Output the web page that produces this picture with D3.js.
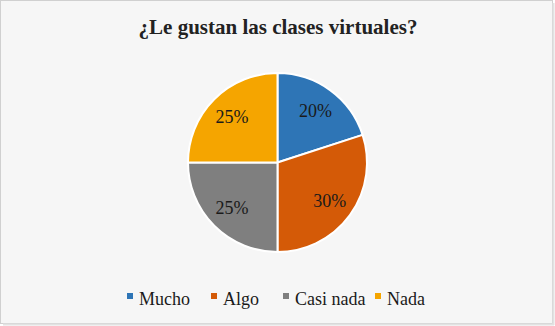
<!DOCTYPE html>
<html><head><meta charset="utf-8">
<script src="https://cdn.jsdelivr.net/npm/d3@7"></script>
<style>
html,body{margin:0;padding:0;background:#fff;}
svg{display:block;}
text{font-family:"Liberation Serif","Times New Roman",serif;}
</style></head>
<body>
<svg id="chart" width="555" height="326"></svg>
<script>
const title = "¿Le gustan las clases virtuales?";
const categories = ["Mucho", "Algo", "Casi nada", "Nada"];
const values = [20, 30, 25, 25];
const labels = ["20%", "30%", "25%", "25%"];
const colors = ["#2e75b6", "#d45a07", "#7f7f7f", "#f5a500"];

const W = 555, H = 326;
const svg = d3.select("#chart");
svg.append("rect").attr("x",0.5).attr("y",0.5).attr("width",W-3).attr("height",H-3)
  .attr("fill","#f6f6f6").attr("stroke","#d0d0d0");
svg.append("line").attr("x1",3).attr("x2",W-1).attr("y1",H-1.5).attr("y2",H-1.5).attr("stroke","#e2e2e2").attr("stroke-width",2);
svg.append("line").attr("x1",W-1.5).attr("x2",W-1.5).attr("y1",3).attr("y2",H-1).attr("stroke","#e2e2e2").attr("stroke-width",2);

svg.append("text").attr("x",278).attr("y",34).attr("text-anchor","middle")
  .attr("font-weight","bold").attr("font-size",21).attr("fill","#222").text(title);

const cx = 277.5, cy = 162.5, R = 89.5;
const pie = d3.pie().sort(null).value(d=>d)(values);
const arc = d3.arc().innerRadius(0).outerRadius(R);
const labelArc = d3.arc().innerRadius(R*0.72).outerRadius(R*0.72);
const g = svg.append("g").attr("transform",`translate(${cx},${cy})`);
g.selectAll("path").data(pie).join("path").attr("d",arc)
  .attr("fill",(d,i)=>colors[i]).attr("stroke","#fff").attr("stroke-width",2).attr("stroke-linejoin","round");
g.selectAll("text").data(pie).join("text")
  .attr("transform",d=>`translate(${labelArc.centroid(d)})`)
  .attr("text-anchor","middle").attr("dy","0.35em")
  .attr("font-size",18).attr("fill","#1a1a1a").text((d,i)=>labels[i]);

const legendX = [127, 211, 283, 375];
const lg = svg.append("g");
categories.forEach((c,i)=>{
  lg.append("rect").attr("x",legendX[i]).attr("y",293).attr("width",6).attr("height",6).attr("fill",colors[i]);
  lg.append("text").attr("x",legendX[i]+12).attr("y",305)
    .attr("font-size",18).attr("fill","#1a1a1a").text(c);
});
</script>
</body></html>
